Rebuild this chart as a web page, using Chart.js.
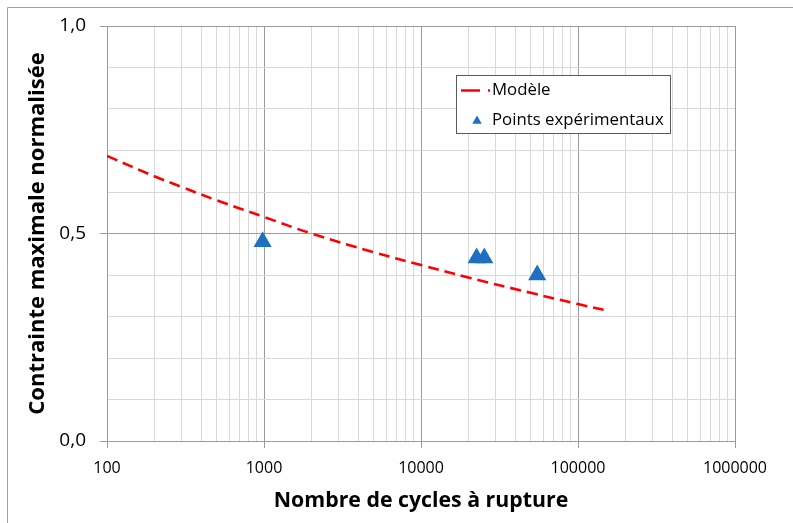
<!DOCTYPE html>
<html>
<head>
<meta charset="utf-8">
<script src="https://cdn.jsdelivr.net/npm/chart.js@4/dist/chart.umd.min.js"></script>
<style>
html,body{margin:0;padding:0;background:#fff;}
#wrap{position:relative;width:793px;height:523px;}
</style>
</head>
<body>
<div id="wrap"><canvas id="c" width="793" height="523"></canvas></div>
<script>
// ---- data ----
const modelN = [100, 200, 300, 500, 1000, 2000, 5000, 10000, 20000, 50000, 100000, 155000];
const modelS = [0.687, 0.638, 0.612, 0.580, 0.540, 0.500, 0.455, 0.424, 0.394, 0.357, 0.330, 0.314];
const expN = [980, 22600, 25300, 55000];
const expS = [0.480, 0.441, 0.441, 0.400];
const xTickLabels = ['100', '1000', '10000', '100000', '1000000'];
const yTickLabels = ['0,0', '0,5', '1,0'];
const seriesNames = ['Modèle', 'Points expérimentaux'];
const xTitle = 'Nombre de cycles à rupture';
const yTitle = 'Contrainte maximale normalisée';

const FONT = "'Open Sans', 'DejaVu Sans', sans-serif";
const RED = '#FF0000';
const BLUE = '#1F70C1';
const MAJOR = '#9a9a9a';
const MINOR = '#d9d9d9';

function isDecade(v){ const l = Math.log10(v); return Math.abs(l - Math.round(l)) < 1e-9; }
function isYMajor(v){ return Math.abs(v*2 - Math.round(v*2)) < 1e-9; }

const frame = {
  id: 'frame',
  beforeDraw(chart){
    const ctx = chart.ctx;
    ctx.save();
    ctx.fillStyle = '#fff';
    ctx.fillRect(0,0,chart.width,chart.height);
    ctx.strokeStyle = '#a0a0a0';
    ctx.lineWidth = 1;
    ctx.beginPath();
    ctx.moveTo(7.5, chart.height); ctx.lineTo(7.5, 7.5); ctx.lineTo(chart.width, 7.5);
    ctx.stroke();
    ctx.restore();
  },
  afterDraw(chart){
    const ctx = chart.ctx;
    ctx.save();
    // legend box
    const bx = 456.5, by = 75.5, bw = 214, bh = 58;
    ctx.fillStyle = '#fff';
    ctx.fillRect(bx, by, bw, bh);
    ctx.strokeStyle = '#595959';
    ctx.lineWidth = 1;
    ctx.strokeRect(bx, by, bw, bh);
    // model sample
    ctx.strokeStyle = RED;
    ctx.lineWidth = 2.5;
    ctx.beginPath(); ctx.moveTo(461, 90.5); ctx.lineTo(480, 90.5); ctx.stroke();
    ctx.beginPath(); ctx.moveTo(488, 90.5); ctx.lineTo(490, 90.5); ctx.stroke();
    // triangle sample
    ctx.fillStyle = BLUE;
    const tx = 477, ty = 121, r = 5.5;
    ctx.beginPath();
    ctx.moveTo(tx, ty - r);
    ctx.lineTo(tx + r*0.866, ty + r/2);
    ctx.lineTo(tx - r*0.866, ty + r/2);
    ctx.closePath(); ctx.fill();
    ctx.fillStyle = '#000';
    ctx.font = '16.8px ' + FONT;
    ctx.textBaseline = 'middle';
    ctx.textAlign = 'left';
    ctx.fillText(seriesNames[0], 492, 90);
    ctx.fillText(seriesNames[1], 492, 120);
    ctx.restore();
  }
};

new Chart(document.getElementById('c'), {
  type: 'scatter',
  data: {
    datasets: [
      {
        label: seriesNames[0],
        data: modelN.map((n,i)=>({x:n, y:modelS[i]})),
        showLine: true,
        borderColor: RED,
        borderWidth: 2.6,
        borderDash: [11, 6],
        pointRadius: 0,
        tension: 0.4,
        fill: false,
        order: 2
      },
      {
        label: seriesNames[1],
        data: expN.map((n,i)=>({x:n, y:expS[i]})),
        pointStyle: 'triangle',
        pointRadius: 10.5,
        pointHoverRadius: 10.5,
        backgroundColor: BLUE,
        borderColor: BLUE,
        borderWidth: 0,
        order: 1
      }
    ]
  },
  options: {
    responsive: false,
    animation: false,
    devicePixelRatio: 1,
    layout: { padding: { left: 7, top: 26, right: 58, bottom: 0 } },
    plugins: { legend: { display: false }, tooltip: { enabled: false } },
    scales: {
      x: {
        type: 'logarithmic',
        min: 100, max: 1000000,
        afterFit(s){ s.height = 82; },
        afterBuildTicks(s){
          const t = [];
          for (let e = 2; e <= 6; e++){
            for (let m = 1; m <= 9; m++){
              const v = m * Math.pow(10, e);
              if (v > 1000000) break;
              t.push({value: Math.round(v)});
            }
          }
          s.ticks = t;
        },
        ticks: {
          autoSkip: false,
          maxRotation: 0,
          padding: 11,
          color: '#000',
          font: { family: FONT, size: 16 },
          callback(v){ return isDecade(v) ? xTickLabels[Math.round(Math.log10(v)) - 2] : ''; }
        },
        grid: {
          color: ctx => (ctx.tick && isDecade(ctx.tick.value)) ? MAJOR : MINOR,
          tickColor: ctx => (ctx.tick && isDecade(ctx.tick.value)) ? MAJOR : 'rgba(0,0,0,0)',
          tickLength: 7,
          lineWidth: 1
        },
        border: { color: MAJOR, width: 1 },
        title: {
          display: true,
          text: xTitle,
          color: '#000',
          font: { family: FONT, size: 21.3, weight: 'bold' },
          padding: { top: 0, bottom: 9 }
        }
      },
      y: {
        type: 'linear',
        min: 0, max: 1,
        afterFit(s){ s.width = 100; },
        afterBuildTicks(s){
          const t = [];
          for (let i = 0; i <= 10; i++) t.push({value: i/10});
          s.ticks = t;
        },
        ticks: {
          autoSkip: false,
          padding: 14,
          color: '#000',
          font: { family: FONT, size: 19 },
          callback(v){ return isYMajor(v) ? yTickLabels[Math.round(v*2)] : ''; }
        },
        grid: {
          color: ctx => (ctx.tick && isYMajor(ctx.tick.value)) ? MAJOR : MINOR,
          tickColor: ctx => (ctx.tick && isYMajor(ctx.tick.value)) ? MAJOR : 'rgba(0,0,0,0)',
          tickLength: 7,
          lineWidth: 1
        },
        border: { color: MAJOR, width: 1 },
        title: {
          display: true,
          text: yTitle,
          color: '#000',
          font: { family: FONT, size: 22, weight: 'bold' },
          padding: { top: 18, bottom: 0 }
        }
      }
    }
  },
  plugins: [frame]
});
</script>
</body>
</html>
